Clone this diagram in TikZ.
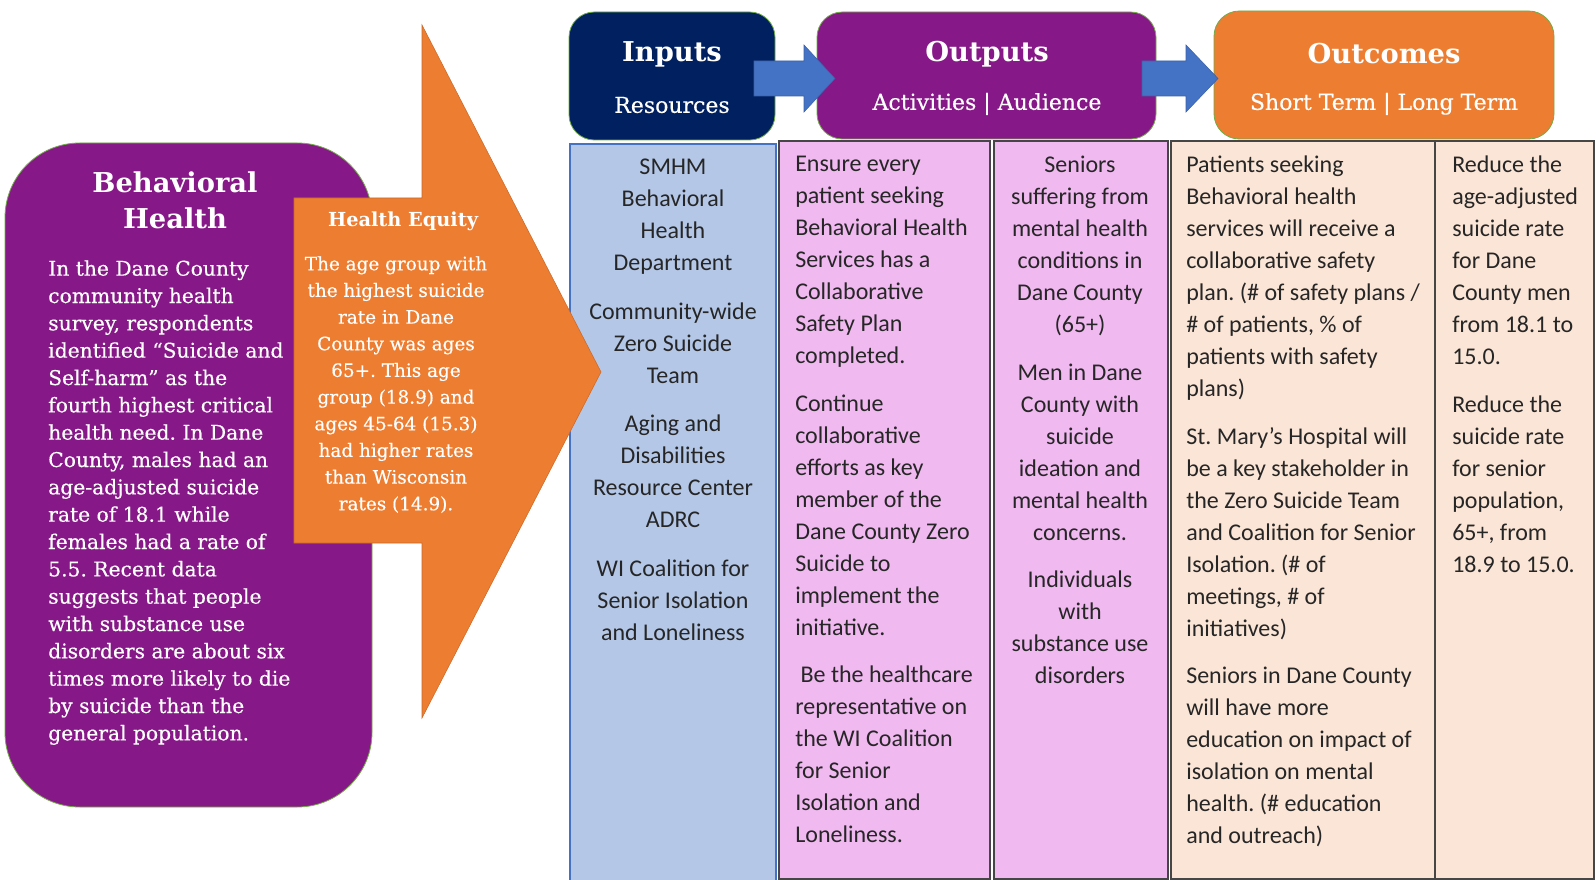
\documentclass[tikz,border=0pt]{standalone}
\usepackage{fontspec}
\setmainfont{DejaVu Serif}
\newfontfamily\calfont{Carlito}
\newfontfamily\geofont{DejaVu Serif}
\newfontfamily\geobody{DejaVu Serif}[FakeBold=0.35]
\definecolor{bhpurple}{RGB}{134,25,135}
\definecolor{navyblue}{RGB}{0,32,96}
\definecolor{orng}{RGB}{237,125,49}
\definecolor{arrblue}{RGB}{68,114,196}
\definecolor{colblue}{RGB}{180,199,231}
\definecolor{colpink}{RGB}{240,185,240}
\definecolor{colpeach}{RGB}{251,229,214}
\definecolor{grnborder}{RGB}{112,173,71}
\definecolor{coltextc}{RGB}{38,38,38}
\definecolor{colline}{RGB}{70,70,70}
\tikzset{
  hdrbox/.style={draw=grnborder, line width=0.6pt, rounded corners=19pt},
  hdrtitle/.style={font=\geofont\bfseries\fontsize{20.5}{24}\selectfont, text=white, inner sep=0pt},
  hdrsub/.style={font=\geobody\fontsize{16.5}{20}\selectfont, text=white, inner sep=0pt},
  colbox/.style={draw=colline, line width=0.9pt},
  coltext/.style={font=\calfont\fontsize{18}{24}\selectfont, text=coltextc, inner sep=0pt},
  bhtext/.style={font=\geobody\fontsize{15.2}{20.5}\selectfont, text=white, inner sep=0pt},
  eqtext/.style={font=\geobody\fontsize{13.8}{20}\selectfont, text=white, inner sep=0pt},
  blockarrow/.style={fill=arrblue, draw=arrblue!85!black, line width=0.4pt}
}
\begin{document}
\frenchspacing
\begin{tikzpicture}[x=0.75pt,y=-0.75pt]
\clip (0,0) rectangle (1596,880);
\fill[white] (0,0) rectangle (1596,880);

% ---- columns
\path[fill=colblue, draw=arrblue, line width=0.8pt] (570,144) rectangle (776,890);
\path[colbox, fill=colpink] (779,141) rectangle (990,879);
\path[colbox, fill=colpink] (994,141) rectangle (1168,879);
\path[colbox, fill=colpeach] (1171,141) rectangle (1435,879);
\path[colbox, fill=colpeach] (1435,141) rectangle (1594,879);

\node[coltext, align=center, anchor=north] (res) at (673,159)
 {\frenchspacing SMHM\\Behavioral\\Health\\Department\\[12.4pt]
  Community-wide\\Zero Suicide\\Team\\[12.4pt]
  Aging and\\Disabilities\\Resource Center\\ADRC\\[12.4pt]
  WI Coalition for\\Senior Isolation\\and Loneliness};

\node[coltext, align=left, anchor=north west] (act) at (795,156)
 {\frenchspacing Ensure every\\patient seeking\\Behavioral Health\\Services has a\\Collaborative\\Safety Plan\\completed.\\[11.6pt]
  Continue\\collaborative\\efforts as key\\member of the\\Dane County Zero\\Suicide to\\implement the\\initiative.\\[11.6pt]
  \hspace{4pt}Be the healthcare\\representative on\\the WI Coalition\\for Senior\\Isolation and\\Loneliness.};

\node[coltext, align=center, anchor=north] (aud) at (1080,156)
 {\frenchspacing Seniors\\suffering from\\mental health\\conditions in\\Dane County\\(65+)\\[11.6pt]
  Men in Dane\\County with\\suicide\\ideation and\\mental health\\concerns.\\[11.6pt]
  Individuals\\with\\substance use\\disorders};

\node[coltext, align=left, anchor=north west] (short) at (1186,156)
 {\frenchspacing Patients seeking\\Behavioral health\\services will receive a\\collaborative safety\\plan. (\# of safety plans /\\\# of patients, \% of\\patients with safety\\plans)\\[11.6pt]
  St. Mary’s Hospital will\\be a key stakeholder in\\the Zero Suicide Team\\and Coalition for Senior\\Isolation. (\# of\\meetings, \# of\\initiatives)\\[11.6pt]
  Seniors in Dane County\\will have more\\education on impact of\\isolation on mental\\health. (\# education\\and outreach)};

\node[coltext, align=left, anchor=north west] (long) at (1452,156)
 {\frenchspacing Reduce the\\age-adjusted\\suicide rate\\for Dane\\County men\\from 18.1 to\\15.0.\\[11.6pt]
  Reduce the\\suicide rate\\for senior\\population,\\65+, from\\18.9 to 15.0.};

% ---- header boxes
\path[hdrbox, fill=navyblue] (569,12) rectangle (775,140);
\node[hdrtitle] (inputs) at (672,54) {Inputs};
\node[hdrsub] (inputsub) at (672,105) {Resources};

\path[hdrbox, fill=bhpurple] (817,12) rectangle (1156,139);
\node[hdrtitle] (outputs) at (987,54) {Outputs};
\node[hdrsub] (outputsub) at (987,104) {Activities | Audience};

\path[hdrbox, fill=orng] (1214,11) rectangle (1554,139);
\node[hdrtitle] (outcomes) at (1384,54) {Outcomes};
\node[hdrsub] (outcomesub) at (1384,104) {Short Term | Long Term};

% ---- block arrows
\path[blockarrow] (754,61) -- (804,61) -- (804,45) -- (835,78.5) -- (804,112) -- (804,96) -- (754,96) -- cycle;
\path[blockarrow] (1142,61) -- (1186,61) -- (1186,45) -- (1218,78.5) -- (1186,112) -- (1186,96) -- (1142,96) -- cycle;

% ---- Behavioral Health box
\path[draw=grnborder, line width=0.6pt, fill=bhpurple, rounded corners=56pt] (5,143) rectangle (372,807);
\node[font=\geofont\bfseries\fontsize{20.5}{27}\selectfont, text=white, align=center, inner sep=0pt] (bhtitle) at (175,200) {Behavioral\\Health};
\node[bhtext, align=left, anchor=north west] (bhbody) at (48,260)
 {\frenchspacing In the Dane County\\community health\\survey, respondents\\identified “Suicide and\\Self-harm” as the\\fourth highest critical\\health need. In Dane\\County, males had an\\age-adjusted suicide\\rate of 18.1 while\\females had a rate of\\5.5. Recent data\\suggests that people\\with substance use\\disorders are about six\\times more likely to die\\by suicide than the\\general population.};

% ---- Health equity arrow
\path[fill=orng, draw=orng!85!black, line width=0.4pt] (294,198) -- (422,198) -- (422,25) -- (601,372) -- (422,718) -- (422,543) -- (294,543) -- cycle;
\node[font=\geofont\bfseries\fontsize{14.5}{18}\selectfont, text=white, inner sep=0pt] (eqtitle) at (403,221) {Health Equity};
\node[eqtext, align=center, anchor=north] (eqbody) at (396,256)
 {\frenchspacing The age group with\\the highest suicide\\rate in Dane\\County was ages\\65+. This age\\group (18.9) and\\ages 45-64 (15.3)\\had higher rates\\than Wisconsin\\rates (14.9).};
\end{tikzpicture}
\end{document}
